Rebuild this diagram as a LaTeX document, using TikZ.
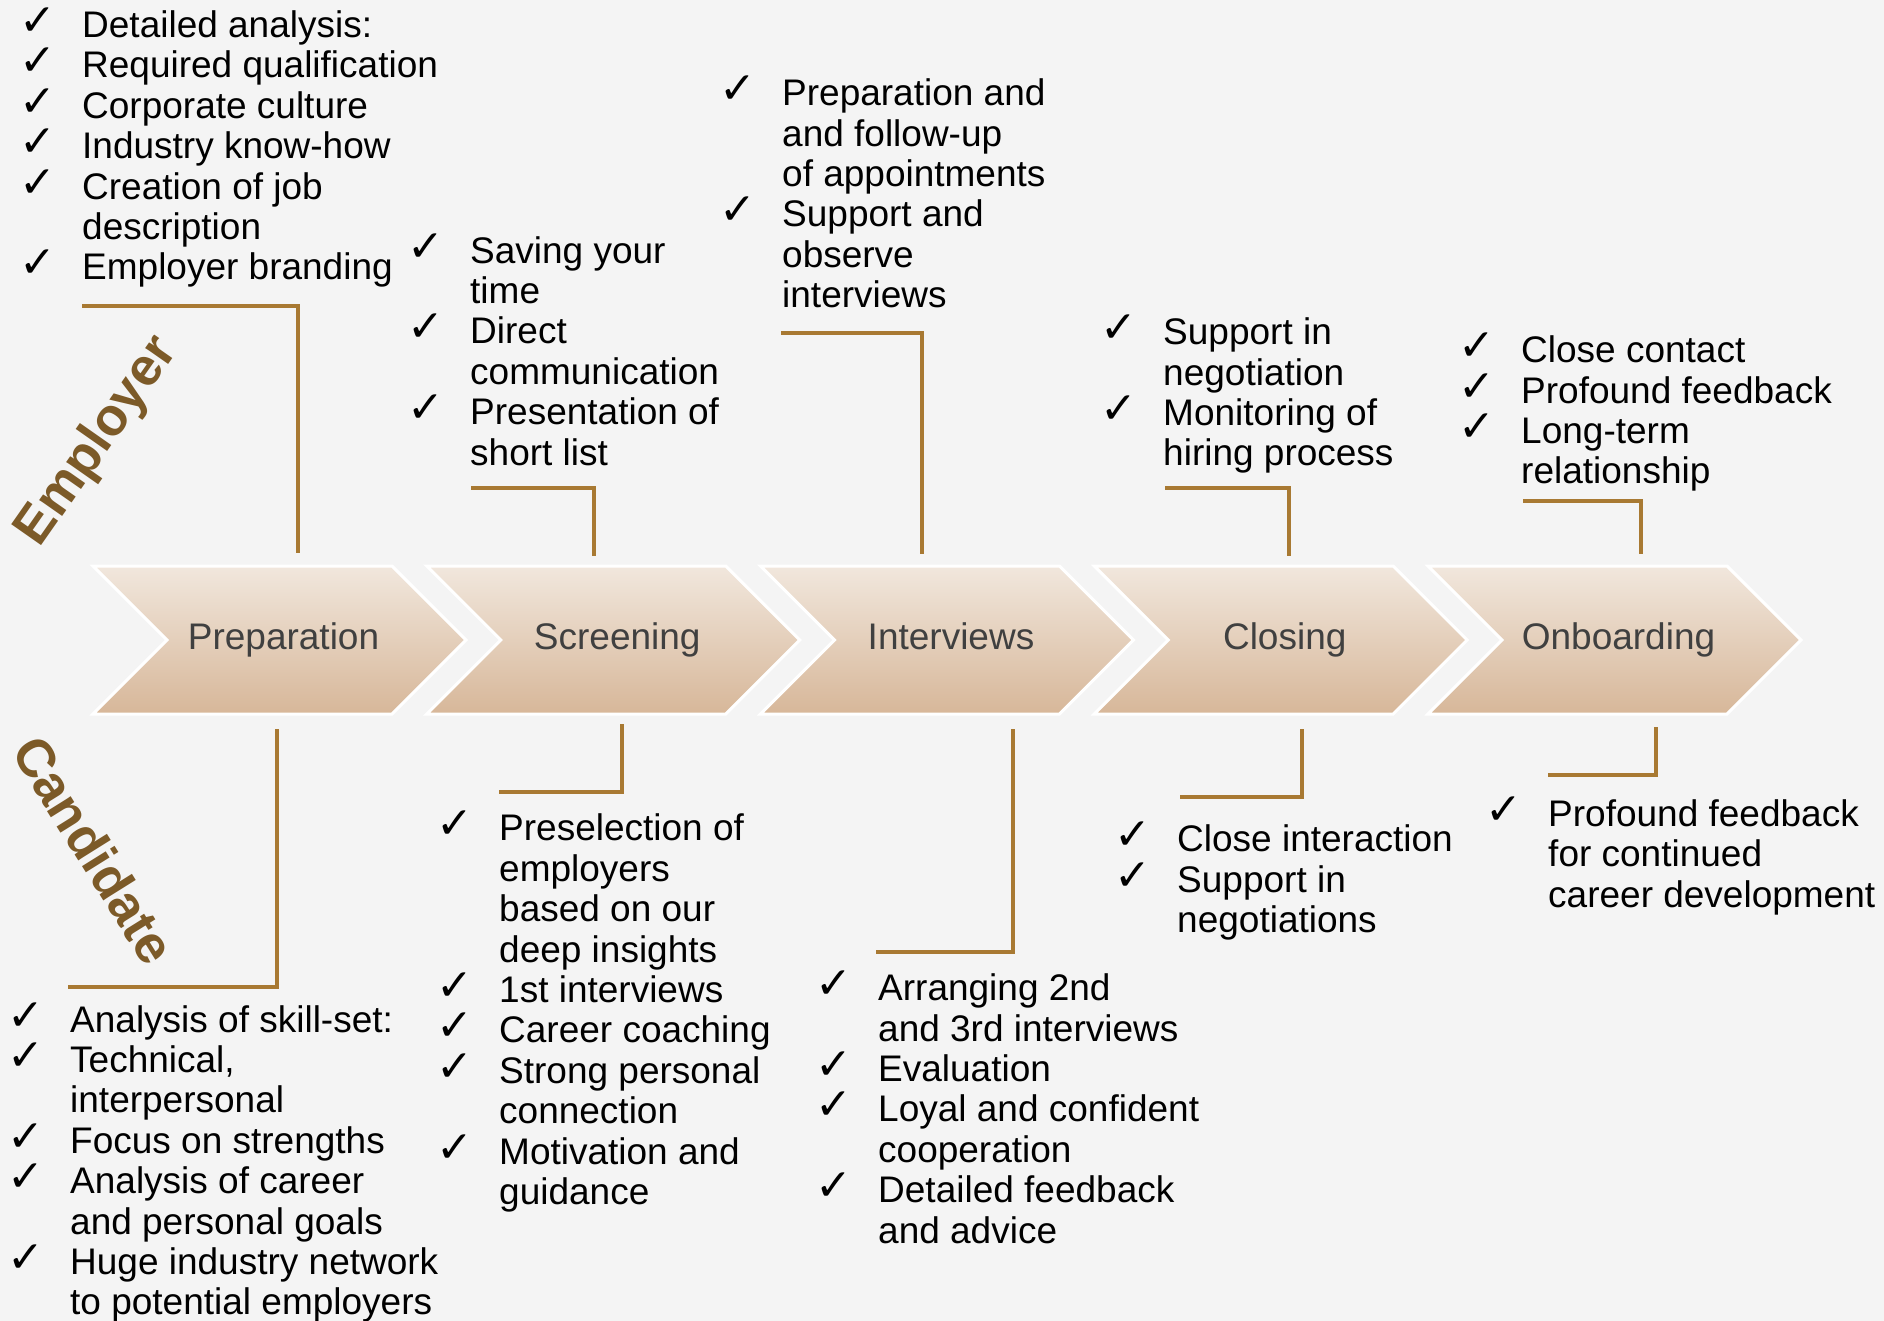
\documentclass[tikz,border=0pt]{standalone}
\usepackage{fontspec}
\setmainfont{Liberation Sans}
\newfontfamily\chkfont{DejaVu Sans}
\usetikzlibrary{shapes.symbols}

\definecolor{bggray}{RGB}{244,244,244}
\definecolor{linkbrown}{RGB}{168,121,50}
\definecolor{sidebrown}{RGB}{124,90,40}
\definecolor{chevtop}{RGB}{241,231,221}
\definecolor{chevbot}{RGB}{215,183,153}
\definecolor{chevtext}{RGB}{64,64,64}

% check mark and empty indent for the lists
\newcommand\ck{\strut\makebox[58pt][l]{\hspace*{-5pt}\smash{\chkfont\fontsize{44}{44}\selectfont\raisebox{2pt}{\char"2713}}}}
\newcommand\nc{\strut\hspace*{58pt}}

\tikzset{
  chev/.style={signal, signal from=west, signal to=east, signal pointer angle=90,
    minimum width=373pt, minimum height=148pt, inner sep=0pt,
    text height=27pt, text depth=8pt,
    draw=white, line width=3pt, top color=chevtop, bottom color=chevbot,
    text=chevtext, font=\fontsize{37}{40}\selectfont},
  items/.style={anchor=north west, inner sep=0pt, align=left,
    font=\fontsize{37}{40.4}\selectfont},
  side/.style={text=sidebrown, font=\bfseries\fontsize{53}{53}\selectfont},
  link/.style={draw=linkbrown, line width=4pt}
}

\begin{document}
\begin{tikzpicture}[x=1pt, y=-1pt]
\fill[bggray] (0,0) rectangle (1884,1321);
\useasboundingbox (0,0) rectangle (1884,1321);

% process steps
\node[chev] (prep) at (279.5,640) {\hspace*{8pt}Preparation};
\node[chev] (scr) at (613.25,640) {\hspace*{8pt}Screening};
\node[chev] (intv) at (947,640) {\hspace*{8pt}Interviews};
\node[chev] (clos) at (1280.75,640) {\hspace*{8pt}Closing};
\node[chev] (onb) at (1614.5,640) {\hspace*{8pt}Onboarding};

\node[side, rotate=55] (emp) at (98,442) {Employer};
\node[side, rotate=-58] (cand) at (94,850) {Candidate};

% employer side
\node[items] (eprep) at (24,9) {\ck Detailed analysis:\\ \ck Required qualification\\ \ck Corporate culture\\ \ck Industry know-how\\ \ck Creation of job\\ \nc description\\ \ck Employer branding};
\node[items] (escr) at (412,234.6) {\ck Saving your\\ \nc time\\ \ck Direct\\ \nc communication\\ \ck Presentation of\\ \nc short list};
\node[items] (eintv) at (724,77.2) {\ck Preparation and\\ \nc and follow-up\\ \nc of appointments\\ \ck Support and\\ \nc observe\\ \nc interviews};
\node[items] (eclos) at (1105,316.3) {\ck Support in\\ \nc negotiation\\ \ck Monitoring of\\ \nc hiring process};
\node[items] (eonb) at (1463,334.3) {\ck Close contact\\ \ck Profound feedback\\ \ck Long-term\\ \nc relationship};

% candidate side
\node[items] (cprep) at (12,1003.6) {\ck Analysis of skill-set:\\ \ck Technical,\\ \nc interpersonal\\ \ck Focus on strengths\\ \ck Analysis of career\\ \nc and personal goals\\ \ck Huge industry network\\ \nc to potential employers};
\node[items] (cscr) at (441,812.5) {\ck Preselection of\\ \nc employers\\ \nc based on our\\ \nc deep insights\\ \ck 1st interviews\\ \ck Career coaching\\ \ck Strong personal\\ \nc connection\\ \ck Motivation and\\ \nc guidance};
\node[items] (cintv) at (820,972.3) {\ck Arranging 2nd\\ \nc and 3rd interviews\\ \ck Evaluation\\ \ck Loyal and confident\\ \nc cooperation\\ \ck Detailed feedback\\ \nc and advice};
\node[items] (cclos) at (1119,823.3) {\ck Close interaction\\ \ck Support in\\ \nc negotiations};
\node[items] (conb) at (1490,798.1) {\ck Profound feedback\\ \nc for continued\\ \nc career development};

% bracket ends
\coordinate (e1) at (82,306);
\coordinate (e1p) at (298,553);
\coordinate (e2) at (471,488);
\coordinate (e2p) at (594,556);
\coordinate (e3) at (781,333);
\coordinate (e3p) at (922,554);
\coordinate (e4) at (1165,488);
\coordinate (e4p) at (1289,556);
\coordinate (e5) at (1523,501);
\coordinate (e5p) at (1641,554);

\coordinate (c1p) at (277,729);
\coordinate (c1) at (68,987);
\coordinate (c2p) at (622,724);
\coordinate (c2) at (499,792);
\coordinate (c3p) at (1013,729);
\coordinate (c3) at (876,952);
\coordinate (c4p) at (1302,729);
\coordinate (c4) at (1180,797);
\coordinate (c5p) at (1656,727);
\coordinate (c5) at (1548,775);

\draw[link] (e1) -| (e1p);
\draw[link] (e2) -| (e2p);
\draw[link] (e3) -| (e3p);
\draw[link] (e4) -| (e4p);
\draw[link] (e5) -| (e5p);

\draw[link] (c1p) |- (c1);
\draw[link] (c2p) |- (c2);
\draw[link] (c3p) |- (c3);
\draw[link] (c4p) |- (c4);
\draw[link] (c5p) |- (c5);
\end{tikzpicture}
\end{document}
